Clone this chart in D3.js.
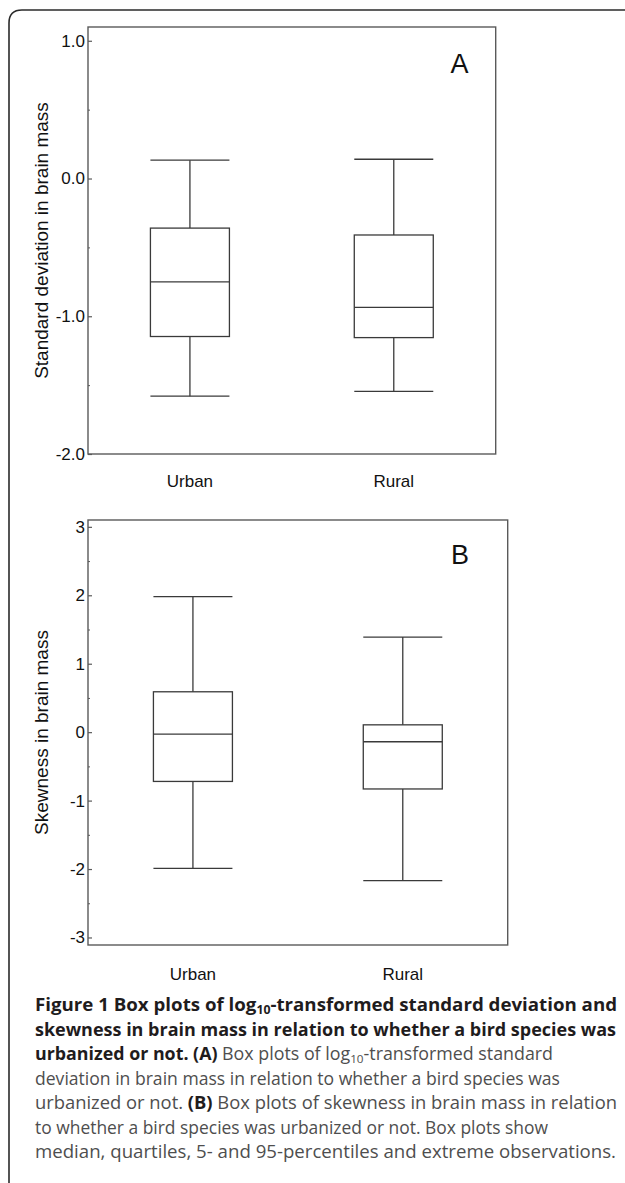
<!DOCTYPE html>
<html>
<head>
<meta charset="utf-8">
<script src="https://cdn.jsdelivr.net/npm/d3@7"></script>
<style>
  html, body { margin: 0; padding: 0; background: #fff; }
  svg { display: block; }
</style>
</head>
<body>
<svg id="chart" width="625" height="1183"></svg>
<script>
// ---------------- DATA ----------------
const categories = ["Urban", "Rural"];

// Panel A: log10 standard deviation in brain mass
const sdLowerWhisker = [-1.58, -1.545];
const sdQ1 = [-1.147, -1.155];
const sdMedian = [-0.75, -0.935];
const sdQ3 = [-0.36, -0.41];
const sdUpperWhisker = [0.133, 0.14];
const sdTicks = [1.0, 0.0, -1.0, -2.0];
const sdTickLabels = ["1.0", "0.0", "-1.0", "-2.0"];
const sdMinorTicks = [0.5, -0.5, -1.5];

// Panel B: skewness in brain mass
const skLowerWhisker = [-1.99, -2.17];
const skQ1 = [-0.72, -0.83];
const skMedian = [-0.03, -0.14];
const skQ3 = [0.59, 0.107];
const skUpperWhisker = [1.98, 1.39];
const skTicks = [3, 2, 1, 0, -1, -2, -3];
const skTickLabels = ["3", "2", "1", "0", "-1", "-2", "-3"];
const skMinorTicks = [2.5, 1.5, 0.5, -0.5, -1.5, -2.5];

// ---------------- DRAWING ----------------
const svg = d3.select("#chart");
const FRAME = "#5a5a5a";
const BOXC = "#3a3a3a";
const FONT = "'Liberation Sans', Arial, Helvetica, sans-serif";

// outer figure frame (rounded top-left corner)
svg.append("path")
  .attr("d", "M9,1183 L9,23 Q9,10 22,10 L625,10")
  .attr("fill", "none").attr("stroke", "#2b2b2b").attr("stroke-width", 1.6);

function panel(cfg) {
  const g = svg.append("g");
  const x = d3.scalePoint().domain(categories).range([cfg.left, cfg.right]).padding(0.5);
  const y = d3.scaleLinear().domain(cfg.domain).range([cfg.bottom, cfg.top]);
  const bw = 79;

  // frame
  g.append("rect")
    .attr("x", cfg.left).attr("y", cfg.top)
    .attr("width", cfg.right - cfg.left).attr("height", cfg.bottom - cfg.top)
    .attr("fill", "none").attr("stroke", FRAME).attr("stroke-width", 1.4);

  // major ticks
  const ax = d3.axisLeft(y).tickValues(cfg.ticks).tickSize(-4).tickPadding(3)
    .tickFormat((d, i) => cfg.tickLabels[i]);
  const axg = g.append("g").attr("transform", `translate(${cfg.left},0)`).call(ax);
  axg.select(".domain").remove();
  axg.selectAll(".tick line").attr("stroke", FRAME).attr("stroke-width", 1.2);
  axg.selectAll(".tick text").attr("font-family", FONT).attr("font-size", 17).attr("fill", "#111");

  // minor ticks
  const mx = d3.axisLeft(y).tickValues(cfg.minor).tickSize(-2).tickFormat("");
  const mg = g.append("g").attr("transform", `translate(${cfg.left},0)`).call(mx);
  mg.select(".domain").remove();
  mg.selectAll(".tick line").attr("stroke", FRAME).attr("stroke-width", 1);

  // boxes
  const idx = d3.range(categories.length);
  const bx = g.selectAll(".box").data(idx).join("g").attr("class", "box");
  bx.append("line")
    .attr("x1", i => x(categories[i])).attr("x2", i => x(categories[i]))
    .attr("y1", i => y(cfg.q3[i])).attr("y2", i => y(cfg.hi[i]));
  bx.append("line")
    .attr("x1", i => x(categories[i])).attr("x2", i => x(categories[i]))
    .attr("y1", i => y(cfg.q1[i])).attr("y2", i => y(cfg.lo[i]));
  bx.append("line")
    .attr("x1", i => x(categories[i]) - bw / 2).attr("x2", i => x(categories[i]) + bw / 2)
    .attr("y1", i => y(cfg.hi[i])).attr("y2", i => y(cfg.hi[i]));
  bx.append("line")
    .attr("x1", i => x(categories[i]) - bw / 2).attr("x2", i => x(categories[i]) + bw / 2)
    .attr("y1", i => y(cfg.lo[i])).attr("y2", i => y(cfg.lo[i]));
  bx.append("rect")
    .attr("x", i => x(categories[i]) - bw / 2).attr("width", bw)
    .attr("y", i => y(cfg.q3[i])).attr("height", i => y(cfg.q1[i]) - y(cfg.q3[i]))
    .attr("fill", "none");
  bx.append("line")
    .attr("x1", i => x(categories[i]) - bw / 2).attr("x2", i => x(categories[i]) + bw / 2)
    .attr("y1", i => y(cfg.med[i])).attr("y2", i => y(cfg.med[i]));
  bx.selectAll("line, rect").attr("stroke", BOXC).attr("stroke-width", 1.3);

  // category labels
  g.selectAll(".cat").data(categories).join("text")
    .attr("x", d => x(d)).attr("y", cfg.catY)
    .attr("text-anchor", "middle").attr("font-family", FONT).attr("font-size", 17)
    .attr("fill", "#111").text(d => d);

  // y title
  g.append("text")
    .attr("transform", `translate(${cfg.titleX},${(cfg.top + cfg.bottom) / 2}) rotate(-90)`)
    .attr("text-anchor", "middle").attr("font-family", FONT).attr("font-size", 19)
    .attr("fill", "#111").text(cfg.title);

  // panel letter
  g.append("text").attr("x", cfg.letterX).attr("y", cfg.letterY)
    .attr("text-anchor", "middle").attr("font-family", FONT).attr("font-size", 27)
    .attr("fill", "#111").text(cfg.letter);
}

panel({
  left: 88, right: 495.7, top: 27, bottom: 454, domain: [-2, 1.1],
  ticks: sdTicks, tickLabels: sdTickLabels, minor: sdMinorTicks,
  lo: sdLowerWhisker, q1: sdQ1, med: sdMedian, q3: sdQ3, hi: sdUpperWhisker,
  catY: 487, titleX: 48, title: "Standard deviation in brain mass",
  letter: "A", letterX: 459.5, letterY: 73
});

panel({
  left: 88, right: 507.7, top: 520, bottom: 945, domain: [-3.11, 3.1],
  ticks: skTicks, tickLabels: skTickLabels, minor: skMinorTicks,
  lo: skLowerWhisker, q1: skQ1, med: skMedian, q3: skQ3, hi: skUpperWhisker,
  catY: 980, titleX: 48, title: "Skewness in brain mass",
  letter: "B", letterX: 460, letterY: 563.5
});

// ---------------- CAPTION ----------------
const captionLines = [
  [["b", "Figure 1 Box plots of log"], ["bs", "10"], ["b", "-transformed standard deviation and"]],
  [["b", "skewness in brain mass in relation to whether a bird species was"]],
  [["b", "urbanized or not. "], ["b", "(A)"], ["r", " Box plots of log"], ["rs", "10"], ["r", "-transformed standard"]],
  [["r", "deviation in brain mass in relation to whether a bird species was"]],
  [["r", "urbanized or not. "], ["b", "(B)"], ["r", " Box plots of skewness in brain mass in relation"]],
  [["r", "to whether a bird species was urbanized or not. Box plots show"]],
  [["r", "median, quartiles, 5- and 95-percentiles and extreme observations."]]
];
const captionEnds = [617, 616, 553, 560, 617, 548, 616];
const captionBase = 1011, captionStep = 24.5, captionLeft = 35;
const CFONT = "'Open Sans', 'Noto Sans', sans-serif";

captionLines.forEach((segs, li) => {
  const t = svg.append("text")
    .attr("x", captionLeft).attr("y", captionBase + li * captionStep)
    .attr("font-family", CFONT).attr("font-size", 17.5);
  let sub = false;
  segs.forEach(([kind, str]) => {
    const ts = t.append("tspan").text(str);
    const bold = kind[0] === "b";
    ts.attr("font-weight", bold ? 700 : 400).attr("fill", bold ? "#1f1c1d" : "#4e4e4e");
    if (kind.length > 1 && kind[1] === "s") {
      ts.attr("font-size", 11.5).attr("dy", 3); sub = true;
    } else if (sub) {
      ts.attr("dy", -3); sub = false;
    }
  });
  const target = captionEnds[li] - captionLeft;
  t.attr("textLength", target).attr("lengthAdjust", "spacingAndGlyphs");
});
</script>
</body>
</html>
